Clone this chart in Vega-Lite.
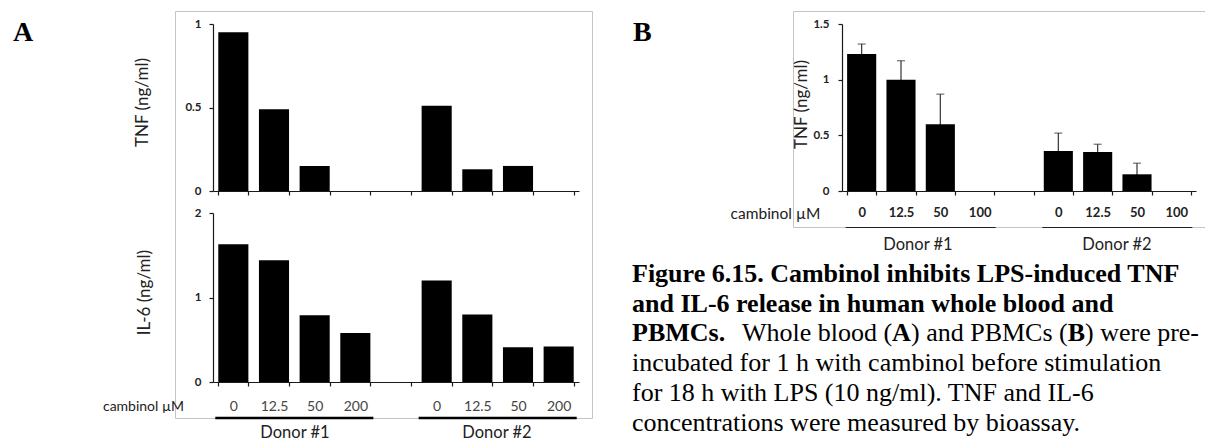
{
  "$schema": "https://vega.github.io/schema/vega-lite/v6.json",
  "autosize": {"type": "none"},
  "padding": {"left": 175, "top": 11, "right": 1030, "bottom": 430},
  "bounds": "flush",
  "spacing": 201,
  "datasets": {
    "wholeBlood": [
      {"cond": "D1 0", "donor": "Donor #1", "dose": "0", "tnf": 0.95, "il6": 1.63},
      {"cond": "D1 12.5", "donor": "Donor #1", "dose": "12.5", "tnf": 0.49, "il6": 1.44},
      {"cond": "D1 50", "donor": "Donor #1", "dose": "50", "tnf": 0.15, "il6": 0.79},
      {"cond": "D1 200", "donor": "Donor #1", "dose": "200", "tnf": 0, "il6": 0.58},
      {"cond": "D2 0", "donor": "Donor #2", "dose": "0", "tnf": 0.51, "il6": 1.2},
      {"cond": "D2 12.5", "donor": "Donor #2", "dose": "12.5", "tnf": 0.13, "il6": 0.8},
      {"cond": "D2 50", "donor": "Donor #2", "dose": "50", "tnf": 0.15, "il6": 0.41},
      {"cond": "D2 200", "donor": "Donor #2", "dose": "200", "tnf": 0, "il6": 0.42}
    ],
    "pbmc": [
      {"cond": "D1 0", "donor": "Donor #1", "dose": "0", "tnf": 1.23, "sd": 0.09},
      {"cond": "D1 12.5", "donor": "Donor #1", "dose": "12.5", "tnf": 1.0, "sd": 0.17},
      {"cond": "D1 50", "donor": "Donor #1", "dose": "50", "tnf": 0.6, "sd": 0.27},
      {"cond": "D1 100", "donor": "Donor #1", "dose": "100", "tnf": 0, "sd": null},
      {"cond": "D2 0", "donor": "Donor #2", "dose": "0", "tnf": 0.36, "sd": 0.16},
      {"cond": "D2 12.5", "donor": "Donor #2", "dose": "12.5", "tnf": 0.35, "sd": 0.07},
      {"cond": "D2 50", "donor": "Donor #2", "dose": "50", "tnf": 0.15, "sd": 0.1},
      {"cond": "D2 100", "donor": "Donor #2", "dose": "100", "tnf": 0, "sd": null}
    ],
    "donorsA": [
      {"donor": "Donor #1", "first": "D1 0", "last": "D1 200"},
      {"donor": "Donor #2", "first": "D2 0", "last": "D2 200"}
    ],
    "donorsB": [
      {"donor": "Donor #1", "first": "D1 0", "last": "D1 100"},
      {"donor": "Donor #2", "first": "D2 0", "last": "D2 100"}
    ],
    "panels": [
      {"panel": "A"},
      {"panel": "B"}
    ],
    "caption": [
      {"line": 1, "seg": 1, "text": "Figure 6.15. Cambinol inhibits LPS-induced TNF"},
      {"line": 2, "seg": 1, "text": "and IL-6 release in human whole blood and"},
      {"line": 3, "seg": 1, "text": "PBMCs."},
      {"line": 3, "seg": 2, "text": "Whole blood ("},
      {"line": 3, "seg": 3, "text": "A"},
      {"line": 3, "seg": 4, "text": ") and PBMCs ("},
      {"line": 3, "seg": 5, "text": "B"},
      {"line": 3, "seg": 6, "text": ") were pre-"},
      {"line": 4, "seg": 1, "text": "incubated for 1 h with cambinol before stimulation"},
      {"line": 5, "seg": 1, "text": "for 18 h with LPS (10 ng/ml). TNF and IL-6"},
      {"line": 6, "seg": 1, "text": "concentrations were measured by bioassay."}
    ]
  },
  "config": {
    "font": "Lato",
    "view": {"stroke": "#c4c4c4", "strokeWidth": 1},
    "axis": {
      "domain": true, "ticks": true,
      "domainColor": "#1a1a1a", "tickColor": "#1a1a1a", "domainWidth": 1.2, "tickWidth": 1.2, "tickSize": 4, "grid": false,
      "labelColor": "#222", "titleColor": "#222", "labelFont": "Lato", "titleFont": "Lato",
      "titleFontWeight": "normal"
    },
    "axisX": {"labelAngle": 0, "labelOverlap": false},
    "axisY": {
      "labelFontWeight": "bold", "labelFontSize": 11.5, "labelPadding": 8,
      "titleFontSize": 17, "titleBaseline": "middle", "titleAlign": "center"
    }
  },
  "hconcat": [
    {
      "width": 417,
      "height": 407,
      "resolve": {
        "scale": {"x": "independent", "y": "independent"},
        "axis": {"x": "independent", "y": "independent"}
      },
      "layer": [
        {
          "data": {"name": "wholeBlood"},
          "mark": {"type": "bar", "color": "black"},
          "encoding": {
            "x": {
              "field": "cond", "type": "nominal",
              "scale": {"type": "band", "domain": ["D1 0", "D1 12.5", "D1 50", "D1 200", "gap", "D2 0", "D2 12.5", "D2 50", "D2 200"], "range": [38, 404], "paddingInner": 0.26, "paddingOuter": 0.13},
              "axis": {"orient": "bottom", "offset": -227, "labels": false, "title": null, "tickBand": "extent"}
            },
            "y": {
              "field": "tnf", "type": "quantitative",
              "scale": {"domain": [0, 1], "range": [180, 13], "nice": false},
              "axis": {"orient": "left", "offset": -38, "values": [0, 0.5, 1], "format": "~g", "title": "TNF (ng/ml)", "titleX": -71, "titleY": 91}
            }
          }
        },
        {
          "data": {"name": "wholeBlood"},
          "mark": {"type": "bar", "color": "black"},
          "encoding": {
            "x": {
              "field": "cond", "type": "nominal",
              "scale": {"type": "band", "domain": ["D1 0", "D1 12.5", "D1 50", "D1 200", "gap", "D2 0", "D2 12.5", "D2 50", "D2 200"], "range": [38, 404], "paddingInner": 0.26, "paddingOuter": 0.13},
              "axis": {
                "orient": "bottom", "offset": -36, "tickBand": "extent",
                "labelExpr": "split(datum.value, ' ')[1] || ''",
                "labelFontSize": 14, "labelColor": "#444", "labelPadding": 13,
                "title": "cambinol µM", "titleX": -32, "titleY": 24, "titleBaseline": "middle", "titleAlign": "center",
                "titleFontSize": 14, "titleAngle": 0
              }
            },
            "y": {
              "field": "il6", "type": "quantitative",
              "scale": {"domain": [0, 2], "range": [371, 202], "nice": false},
              "axis": {"orient": "left", "offset": -38, "values": [0, 1, 2], "format": "~g", "title": "IL-6 (ng/ml)", "titleX": -69, "titleY": 281}
            }
          }
        },
        {
          "data": {"name": "donorsA"},
          "mark": {"type": "rule", "color": "black", "strokeWidth": 2.5},
          "encoding": {
            "x": {
              "field": "first", "type": "nominal", "bandPosition": -0.1,
              "scale": {"type": "band", "domain": ["D1 0", "D1 12.5", "D1 50", "D1 200", "gap", "D2 0", "D2 12.5", "D2 50", "D2 200"], "range": [38, 404], "paddingInner": 0.26, "paddingOuter": 0.13},
              "axis": null
            },
            "x2": {"field": "last", "bandPosition": 1.1},
            "y": {"datum": 0, "type": "quantitative", "scale": {"domain": [0, 1], "range": [407, 0]}, "axis": null}
          }
        },
        {
          "data": {"name": "donorsA"},
          "mark": {"type": "text", "fontSize": 16.5, "color": "#222", "baseline": "middle"},
          "encoding": {
            "x": {"field": "donor", "type": "nominal", "scale": {"type": "point", "domain": ["Donor #1", "Donor #2"], "range": [120, 322], "padding": 0}, "axis": null},
            "y": {"datum": 0, "type": "quantitative", "scale": {"domain": [0, 1], "range": [422, 0]}, "axis": null},
            "text": {"field": "donor"}
          }
        },
        {
          "data": {"name": "panels"},
          "transform": [{"filter": "datum.panel == 'A'"}],
          "mark": {"type": "text", "font": "Liberation Serif", "fontSize": 28, "fontWeight": "bold", "align": "left", "baseline": "alphabetic", "color": "black"},
          "encoding": {
            "x": {"datum": 0, "type": "quantitative", "scale": {"domain": [0, 1], "range": [-162, 0]}, "axis": null},
            "y": {"datum": 0, "type": "quantitative", "scale": {"domain": [0, 1], "range": [29.5, 0]}, "axis": null},
            "text": {"field": "panel"}
          }
        }
      ]
    },
    {
      "width": 415,
      "height": 216,
      "resolve": {
        "scale": {"x": "independent", "y": "independent"},
        "axis": {"x": "independent", "y": "independent"}
      },
      "layer": [
        {
          "data": {"name": "pbmc"},
          "transform": [{"filter": "isValid(datum.sd)"}],
          "mark": {"type": "errorbar", "color": "#333", "rule": {"strokeWidth": 1.2}, "ticks": {"size": 8, "thickness": 1.2}},
          "encoding": {
            "x": {
              "field": "cond", "type": "nominal",
              "scale": {"type": "band", "domain": ["D1 0", "D1 12.5", "D1 50", "D1 100", "gap", "D2 0", "D2 12.5", "D2 50", "D2 100"], "range": [49, 403], "paddingInner": 0.26, "paddingOuter": 0.13},
              "axis": null
            },
            "y": {"field": "tnf", "type": "quantitative", "scale": {"domain": [0, 1.5], "range": [180, 13], "nice": false}, "axis": null},
            "yError": {"field": "sd"}
          }
        },
        {
          "data": {"name": "pbmc"},
          "mark": {"type": "bar", "color": "black"},
          "encoding": {
            "x": {
              "field": "cond", "type": "nominal",
              "scale": {"type": "band", "domain": ["D1 0", "D1 12.5", "D1 50", "D1 100", "gap", "D2 0", "D2 12.5", "D2 50", "D2 100"], "range": [49, 403], "paddingInner": 0.26, "paddingOuter": 0.13},
              "axis": {
                "orient": "bottom", "offset": -36, "tickBand": "extent",
                "labelExpr": "split(datum.value, ' ')[1] || ''",
                "labelFontSize": 13, "labelFontWeight": "bold", "labelColor": "#222", "labelPadding": 11,
                "title": "cambinol µM", "titleX": -18, "titleY": 22, "titleBaseline": "middle", "titleAlign": "center",
                "titleFontSize": 15.5, "titleAngle": 0
              }
            },
            "y": {
              "field": "tnf", "type": "quantitative",
              "scale": {"domain": [0, 1.5], "range": [180, 13], "nice": false},
              "axis": {"orient": "left", "offset": -49, "values": [0, 0.5, 1, 1.5], "format": "~g", "labelPadding": 9, "title": "TNF (ng/ml)", "titleX": -41, "titleY": 93}
            }
          }
        },
        {
          "data": {"name": "donorsB"},
          "mark": {"type": "rule", "color": "#222", "strokeWidth": 1.2},
          "encoding": {
            "x": {
              "field": "first", "type": "nominal", "bandPosition": -0.05,
              "scale": {"type": "band", "domain": ["D1 0", "D1 12.5", "D1 50", "D1 100", "gap", "D2 0", "D2 12.5", "D2 50", "D2 100"], "range": [49, 403], "paddingInner": 0.26, "paddingOuter": 0.13},
              "axis": null
            },
            "x2": {"field": "last", "bandPosition": 1.05},
            "y": {"datum": 0, "type": "quantitative", "scale": {"domain": [0, 1], "range": [216.5, 0]}, "axis": null}
          }
        },
        {
          "data": {"name": "donorsB"},
          "mark": {"type": "text", "fontSize": 16.5, "color": "#222", "baseline": "middle"},
          "encoding": {
            "x": {"field": "donor", "type": "nominal", "scale": {"type": "point", "domain": ["Donor #1", "Donor #2"], "range": [125, 324], "padding": 0}, "axis": null},
            "y": {"datum": 0, "type": "quantitative", "scale": {"domain": [0, 1], "range": [234, 0]}, "axis": null},
            "text": {"field": "donor"}
          }
        },
        {
          "data": {"name": "panels"},
          "transform": [{"filter": "datum.panel == 'B'"}],
          "mark": {"type": "text", "font": "Liberation Serif", "fontSize": 28, "fontWeight": "bold", "align": "left", "baseline": "alphabetic", "color": "black"},
          "encoding": {
            "x": {"datum": 0, "type": "quantitative", "scale": {"domain": [0, 1], "range": [-160, 0]}, "axis": null},
            "y": {"datum": 0, "type": "quantitative", "scale": {"domain": [0, 1], "range": [30, 0]}, "axis": null},
            "text": {"field": "panel"}
          }
        },
        {
          "data": {"name": "caption"},
          "transform": [{"filter": "datum.seg == 1 && datum.line <= 3"}],
          "mark": {"type": "text", "font": "Liberation Serif", "fontSize": 26, "fontWeight": "bold", "align": "left", "baseline": "alphabetic", "color": "black"},
          "encoding": {
            "x": {"datum": 0, "type": "quantitative", "scale": {"domain": [0, 1], "range": [-161, 412]}, "axis": null},
            "y": {"field": "line", "type": "quantitative", "scale": {"domain": [1, 6], "range": [271, 419.5]}, "axis": null},
            "text": {"field": "text"}
          }
        },
        {
          "data": {"name": "caption"},
          "transform": [{"filter": "datum.seg == 1 && datum.line >= 4"}],
          "mark": {"type": "text", "font": "Liberation Serif", "fontSize": 26, "align": "left", "baseline": "alphabetic", "color": "black"},
          "encoding": {
            "x": {"datum": 0, "type": "quantitative", "scale": {"domain": [0, 1], "range": [-161, 412]}, "axis": null},
            "y": {"field": "line", "type": "quantitative", "scale": {"domain": [1, 6], "range": [271, 419.5]}, "axis": null},
            "text": {"field": "text"}
          }
        },
        {
          "data": {"name": "caption"},
          "transform": [{"filter": "datum.seg == 2"}],
          "mark": {"type": "text", "font": "Liberation Serif", "fontSize": 26, "align": "left", "baseline": "alphabetic", "color": "black", "dx": 110},
          "encoding": {
            "x": {"datum": 0, "type": "quantitative", "scale": {"domain": [0, 1], "range": [-161, 412]}, "axis": null},
            "y": {"field": "line", "type": "quantitative", "scale": {"domain": [1, 6], "range": [271, 419.5]}, "axis": null},
            "text": {"field": "text"}
          }
        },
        {
          "data": {"name": "caption"},
          "transform": [{"filter": "datum.seg == 3"}],
          "mark": {"type": "text", "font": "Liberation Serif", "fontSize": 26, "fontWeight": "bold", "align": "left", "baseline": "alphabetic", "color": "black", "dx": 260},
          "encoding": {
            "x": {"datum": 0, "type": "quantitative", "scale": {"domain": [0, 1], "range": [-161, 412]}, "axis": null},
            "y": {"field": "line", "type": "quantitative", "scale": {"domain": [1, 6], "range": [271, 419.5]}, "axis": null},
            "text": {"field": "text"}
          }
        },
        {
          "data": {"name": "caption"},
          "transform": [{"filter": "datum.seg == 4"}],
          "mark": {"type": "text", "font": "Liberation Serif", "fontSize": 26, "align": "left", "baseline": "alphabetic", "color": "black", "dx": 279},
          "encoding": {
            "x": {"datum": 0, "type": "quantitative", "scale": {"domain": [0, 1], "range": [-161, 412]}, "axis": null},
            "y": {"field": "line", "type": "quantitative", "scale": {"domain": [1, 6], "range": [271, 419.5]}, "axis": null},
            "text": {"field": "text"}
          }
        },
        {
          "data": {"name": "caption"},
          "transform": [{"filter": "datum.seg == 5"}],
          "mark": {"type": "text", "font": "Liberation Serif", "fontSize": 26, "fontWeight": "bold", "align": "left", "baseline": "alphabetic", "color": "black", "dx": 435.7},
          "encoding": {
            "x": {"datum": 0, "type": "quantitative", "scale": {"domain": [0, 1], "range": [-161, 412]}, "axis": null},
            "y": {"field": "line", "type": "quantitative", "scale": {"domain": [1, 6], "range": [271, 419.5]}, "axis": null},
            "text": {"field": "text"}
          }
        },
        {
          "data": {"name": "caption"},
          "transform": [{"filter": "datum.seg == 6"}],
          "mark": {"type": "text", "font": "Liberation Serif", "fontSize": 26, "align": "left", "baseline": "alphabetic", "color": "black", "dx": 453},
          "encoding": {
            "x": {"datum": 0, "type": "quantitative", "scale": {"domain": [0, 1], "range": [-161, 412]}, "axis": null},
            "y": {"field": "line", "type": "quantitative", "scale": {"domain": [1, 6], "range": [271, 419.5]}, "axis": null},
            "text": {"field": "text"}
          }
        }
      ]
    }
  ]
}
